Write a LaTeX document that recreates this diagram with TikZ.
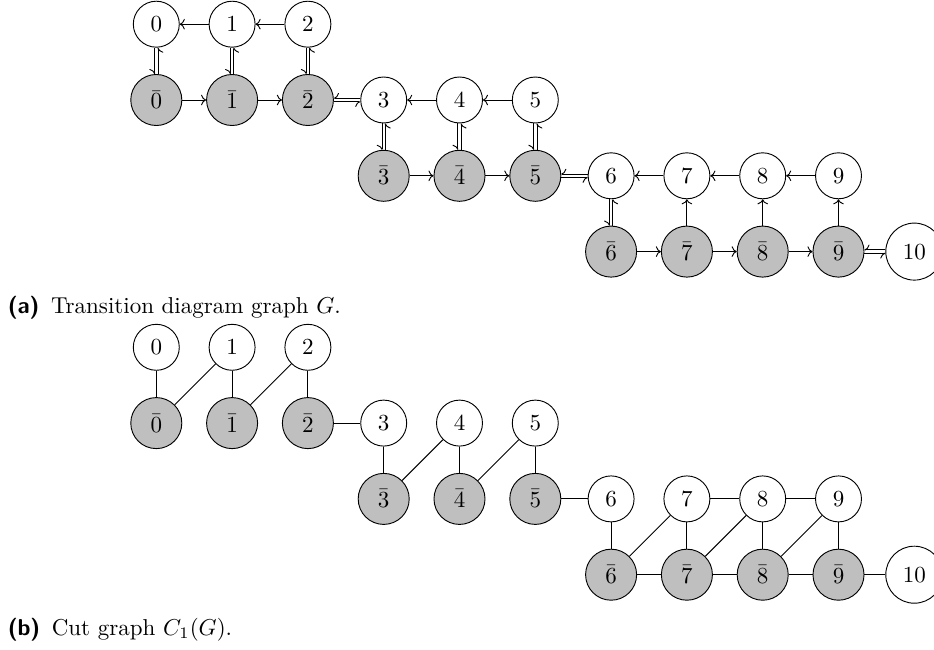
\documentclass[tikz,border=0pt]{standalone}
\usetikzlibrary{arrows.meta}
\begin{document}
\begin{tikzpicture}[x=0.435pt,y=-0.435pt,
  wn/.style={circle,draw,fill=white,inner sep=0pt,minimum size=20pt},
  gn/.style={circle,draw,fill=black!25,inner sep=0pt,minimum size=22.2pt},
  tn/.style={circle,draw,fill=white,inner sep=0pt,minimum size=24.8pt},
  arr/.style={-{To[length=2.2pt,width=4.6pt]}},
  hp/.style={-{To[length=2.2pt,width=4.6pt,right]}},
  dl/.style={hp,transform canvas={xshift=-0.75pt}},
  dr/.style={hp,transform canvas={xshift=0.75pt}},
  du/.style={hp,transform canvas={yshift=0.75pt}},
  dd/.style={hp,transform canvas={yshift=-0.75pt}},
  captxt/.style={anchor=base west,inner sep=0pt,font=\normalsize}
]
\useasboundingbox (0,0) rectangle (934,650);
\def\gx#1{156.3+75.8*#1}
% ---------- part (a) ----------
\foreach \i in {0,1,2} \node[wn] (a\i) at ({\gx{\i}},24.2) {$\i$};
\foreach \i in {0,1,2} \node[gn] (ab\i) at ({\gx{\i}},100) {$\bar{\i}$};
\foreach \i in {3,4,5} \node[wn] (a\i) at ({\gx{\i}},100) {$\i$};
\foreach \i in {3,4,5} \node[gn] (ab\i) at ({\gx{\i}},175.8) {$\bar{\i}$};
\foreach \i in {6,7,8,9} \node[wn] (a\i) at ({\gx{\i}},175.8) {$\i$};
\foreach \i in {6,7,8,9} \node[gn] (ab\i) at ({\gx{\i}},251.6) {$\bar{\i}$};
\node[tn] (a10) at ({\gx{10}},251.6) {$10$};
% double vertical
\foreach \i in {0,...,6} {
  \draw[dl] (a\i) -- (ab\i);
  \draw[dr] (ab\i) -- (a\i);
}
% double horizontal
\foreach \l/\r in {ab2/a3,ab5/a6,ab9/a10} {
  \draw[du] (\r) -- (\l);
  \draw[dd] (\l) -- (\r);
}
% single arrows
\foreach \s/\t in {a1/a0,a2/a1,a4/a3,a5/a4,a7/a6,a8/a7,a9/a8,
  ab0/ab1,ab1/ab2,ab3/ab4,ab4/ab5,ab6/ab7,ab7/ab8,ab8/ab9,
  ab7/a7,ab8/a8,ab9/a9}
  \draw[arr] (\s) -- (\t);
\node[captxt] (capa) at (7.3,313.3) {\textsf{\bfseries(a)}\hspace{5pt}Transition diagram graph $G$.};
% ---------- part (b) ----------
\foreach \i in {0,1,2} \node[wn] (b\i) at ({\gx{\i}},347.3) {$\i$};
\foreach \i in {0,1,2} \node[gn] (bb\i) at ({\gx{\i}},423.1) {$\bar{\i}$};
\foreach \i in {3,4,5} \node[wn] (b\i) at ({\gx{\i}},423.1) {$\i$};
\foreach \i in {3,4,5} \node[gn] (bb\i) at ({\gx{\i}},498.9) {$\bar{\i}$};
\foreach \i in {6,7,8,9} \node[wn] (b\i) at ({\gx{\i}},498.9) {$\i$};
\foreach \i in {6,7,8,9} \node[gn] (bb\i) at ({\gx{\i}},574.7) {$\bar{\i}$};
\node[tn] (b10) at ({\gx{10}},574.7) {$10$};
\foreach \s/\t in {b0/bb0,b1/bb1,b2/bb2,b3/bb3,b4/bb4,b5/bb5,b6/bb6,b7/bb7,b8/bb8,b9/bb9,
  b1/bb0,b2/bb1,b4/bb3,b5/bb4,b7/bb6,b8/bb7,b9/bb8,
  bb2/b3,bb5/b6,bb9/b10,b7/b8,b8/b9,bb6/bb7,bb7/bb8,bb8/bb9}
  \draw (\s) -- (\t);
\node[captxt] (capb) at (7.3,635) {\textsf{\bfseries(b)}\hspace{5pt}Cut graph $C_1(G)$.};
\end{tikzpicture}
\end{document}
